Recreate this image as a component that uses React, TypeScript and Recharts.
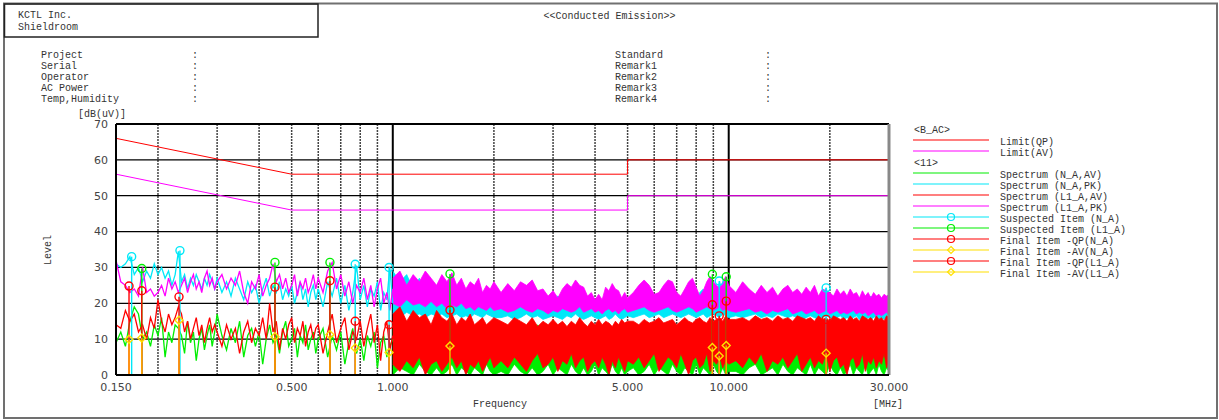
import React from "react";
import { Area, CartesianGrid, ComposedChart, Line, ReferenceLine, Scatter, XAxis, YAxis } from "recharts";

// colours used by the analyzer software
const GREEN = "#00ee00";
const CYAN = "#00e8f8";
const RED = "#ff0000";
const MAGENTA = "#ff00ff";
const YELLOW = "#ffe000";
const ORANGE = "#ffb000";

// ---- spectrum, sparse part (0.15 - 1 MHz) ----
const lowFreq = [
  0.150, 0.155, 0.160, 0.165, 0.170, 0.175, 0.180, 0.185, 0.190, 0.195,
  0.200, 0.205, 0.210, 0.215, 0.220, 0.225, 0.230, 0.235, 0.240, 0.245,
  0.250, 0.255, 0.260, 0.265, 0.270, 0.275, 0.280, 0.285, 0.290, 0.295,
  0.30, 0.31, 0.32, 0.33, 0.34, 0.35, 0.36, 0.37, 0.38, 0.39,
  0.40, 0.41, 0.42, 0.43, 0.44, 0.45, 0.46, 0.47, 0.48, 0.49,
  0.50, 0.51, 0.52, 0.53, 0.54, 0.55, 0.56, 0.57, 0.58, 0.59,
  0.60, 0.62, 0.64, 0.66, 0.68, 0.70, 0.72, 0.74, 0.76, 0.78,
  0.80, 0.82, 0.84, 0.86, 0.88, 0.90, 0.92, 0.94, 0.96, 0.98,
  1.00,
];
const nAvLow = [
  9, 12, 8, 15, 19, 17, 10, 12, 8, 14, 11, 16, 5, 12, 9, 14, 13, 11, 6, 15, 9, 12, 4, 10, 13, 7, 11, 14, 8, 12,
  17, 11, 7, 13, 9, 15, 5, 11, 13, 8, 12, 3, 10, 14, 9, 11, 6, 12, 15, 8, 10, 13, 5, 11, 9, 14, 7, 10, 12, 6,
  10, 13, 5, 11, 7, 12, 3, 9, 13, 6, 10, 4, 11, 8, 12, 2, 9, 11, 5, 8, 10,
];
const nPkLow = [
  31, 30, 31, 33, 28, 30, 26, 29, 27, 31, 28, 30, 27, 29, 25, 28, 34.5, 26, 28, 24, 27, 25, 28, 26, 24, 27, 25, 28, 26, 24,
  27, 23, 26, 22, 27, 24, 21, 26, 23, 25, 20, 24, 27, 22, 25, 23, 26, 21, 24, 22, 25, 20, 23, 26, 21, 24, 19, 23, 25, 21,
  24, 19, 26, 22, 27, 20, 25, 18, 23, 30.5, 21, 25, 19, 24, 22, 26, 18, 23, 21, 30, 20,
];
const l1AvLow = [
  14, 13, 18, 15, 17, 12, 14, 10, 16, 13, 21, 15, 12, 17, 14, 16, 19, 17, 12, 15, 10, 13, 16, 11, 14, 9, 13, 16, 12, 14,
  12, 8, 14, 10, 13, 6, 12, 15, 9, 13, 11, 16, 10, 20, 12, 15, 7, 13, 10, 14, 16, 9, 13, 11, 15, 8, 12, 14, 10, 13,
  14, 6, 12, 17, 9, 13, 16, 7, 12, 10, 15, 8, 13, 17, 9, 14, 4, 12, 15, 7, 11,
];
const l1PkLow = [
  32, 26, 25, 23, 24, 22, 30, 23, 24, 22, 23, 25, 22, 27, 24, 26, 23, 25, 27, 23, 26, 28, 24, 26, 23, 27, 29, 25, 27, 24,
  26, 28, 24, 27, 25, 29, 23, 20, 26, 24, 28, 22, 25, 27, 31, 26, 28, 24, 27, 23, 25, 28, 22, 26, 24, 27, 23, 25, 28, 24,
  27, 23, 29, 31.4, 24, 28, 22, 26, 20, 25, 23, 27, 21, 25, 19, 24, 27, 20, 23, 18, 24,
];

// ---- spectrum, dense part (1 - 30 MHz), low / high envelope ----
const bandFreq = [
  1.00, 1.05, 1.10, 1.15, 1.20, 1.25, 1.30, 1.35, 1.40, 1.45, 1.50, 1.55, 1.60, 1.65, 1.70, 1.75, 1.80, 1.85, 1.90, 1.95, 2.00,
  2.1, 2.2, 2.3, 2.4, 2.5, 2.6, 2.7, 2.8, 2.9, 3.0, 3.1, 3.2, 3.3, 3.4, 3.5, 3.6, 3.7, 3.8, 3.9, 4.0, 4.1, 4.2, 4.3, 4.4, 4.5, 4.6, 4.7, 4.8, 4.9, 5.0,
  5.2, 5.4, 5.6, 5.8, 6.0, 6.2, 6.4, 6.6, 6.8, 7.0, 7.2, 7.4, 7.6, 7.8, 8.0, 8.2, 8.4, 8.6, 8.8, 9.0, 9.2, 9.4, 9.6, 9.8, 10.0,
  10.5, 11, 11.5, 12, 12.5, 13, 13.5, 14, 14.5, 15, 15.5, 16, 16.5, 17, 17.5, 18, 18.5, 19, 19.5, 20,
  20.5, 21, 21.5, 22, 22.5, 23, 23.5, 24, 24.5, 25, 25.5, 26, 26.5, 27, 27.5, 28, 28.5, 29, 29.5, 30,
];
const nAvBandLo = [
  0, 2, 1, 0, 3, 1, 0, 2, 0, 1, 3, 0, 2, 1, 0, 2, 1, 0, 3, 1, 0,
  1, 0, 3, 1, 0, 2, 0, 1, 3, 0, 2, 1, 0, 3, 1, 0, 2, 0, 1, 3, 0, 2, 1, 0, 3, 1, 0, 2, 0, 1,
  2, 0, 1, 3, 0, 2, 1, 0, 3, 1, 0, 2, 1, 0, 3, 0, 2, 1, 0, 3, 1, 0, 2, 0, 1,
  1, 0, 2, 3, 0, 1, 2, 0, 3, 1, 0, 2, 1, 0, 3, 0, 2, 1, 0, 3, 1, 0, 2, 0, 1, 3, 0, 2, 1, 0, 3, 0, 1, 2, 0, 3, 1, 0, 2, 1,
];
const nAvBandHi = [
  14, 11, 15, 12, 13, 10, 14, 12, 15, 11, 13, 12, 14, 10, 13, 12, 14, 11, 13, 12, 14,
  13, 11, 14, 12, 13, 10, 14, 12, 13, 11, 14, 12, 13, 11, 14, 12, 13, 12, 14, 11, 13, 12, 14, 11, 13, 12, 14, 11, 13, 12,
  13, 12, 14, 11, 13, 12, 14, 12, 13, 11, 14, 12, 13, 12, 14, 11, 13, 12, 14, 12, 13, 11, 14, 12, 13,
  13, 12, 14, 13, 12, 14, 13, 12, 15, 13, 12, 14, 13, 12, 14, 13, 12, 15, 13, 12, 14, 13, 12, 14, 13, 12, 15, 13, 12, 14, 13, 12, 14, 13, 12, 15, 13, 12, 14, 13,
];
const nPkBandLo = [
  17, 16, 17.5, 16.5, 17, 16, 17, 16.5, 17, 16, 16.5, 17, 16, 16.5, 16, 17, 16.5, 16, 17, 16.5, 16,
  16, 16.5, 15.5, 16, 17, 16, 16.5, 15.5, 16, 16.5, 16, 15.5, 16.5, 16, 17, 16, 15.5, 16, 16.5, 16, 15.5, 16, 16.5, 15.5, 16, 17, 16, 15.5, 16, 16.5,
  16, 16.5, 17, 16, 16.5, 17, 16, 16.5, 17, 16.5, 16, 16.5, 17, 16.5, 16, 16.5, 17, 16, 16.5, 17, 16.5, 16, 17, 16.5, 16,
  16.5, 16, 16.5, 17, 16, 16.5, 16, 17, 16.5, 16, 16.5, 16, 15.5, 16, 16.5, 16, 15.5, 16, 16.5, 16,
  15.5, 16, 16.5, 15.5, 16, 15.5, 16, 16.5, 15.5, 16, 15.5, 16, 15.5, 16, 16.5, 15.5, 16, 15.5, 16, 15.5,
];
const nPkBandHi = [
  29, 26, 28, 24, 27, 23, 25, 24, 26, 23, 25, 24, 23, 22, 24, 23, 22, 23, 21, 22, 23,
  21, 22, 21, 23, 22, 21, 20, 21, 20, 21, 22, 21, 22, 23, 22, 21, 20, 21, 20, 21, 20, 21, 22, 21, 22, 21, 20, 21, 20, 21,
  21, 22, 23, 22, 21, 22, 23, 24, 22, 21, 22, 23, 24, 22, 21, 23, 24, 22, 21, 22, 23, 26.2, 22, 23, 22,
  21, 22, 21, 20, 22, 21, 22, 20, 21, 22, 21, 20, 21, 22, 21, 20, 21, 22, 24.3, 21,
  20, 21, 22, 21, 20, 21, 22, 21, 20, 21, 20, 21, 22, 21, 20, 21, 20, 21, 22, 21,
];
const l1AvBandLo = [
  3, 1, 4, 2, 5, 0, 3, 4, 1, 3, 5, 2, 4, 0, 3, 2, 4, 1, 3, 5, 2,
  4, 2, 5, 3, 1, 4, 6, 2, 3, 5, 1, 4, 3, 6, 2, 4, 5, 1, 3, 4, 2, 5, 3, 0, 4, 2, 5, 3, 1, 4,
  3, 5, 2, 4, 6, 1, 3, 5, 4, 2, 6, 3, 0, 4, 5, 2, 3, 6, 1, 4, 3, 5, 2, 4, 3,
  4, 2, 5, 3, 6, 1, 4, 3, 5, 2, 4, 6, 1, 3, 5, 2, 4, 3, 6, 1, 4, 5, 2, 3, 0, 4, 5, 2, 3, 6, 1, 4, 3, 5, 2, 4, 3, 6, 2, 4,
];
const l1AvBandHi = [
  17, 19, 15, 18, 16, 17, 14, 18, 16, 15, 17, 14, 16, 15, 17, 14, 15, 16, 14, 15, 16,
  15, 14, 16, 15, 14, 16, 13.5, 15, 14, 15.5, 14, 15, 13.5, 15, 14, 16, 14.5, 13.5, 15, 14, 15.5, 14, 15, 14.5, 13.5, 15, 14, 15.5, 14.5, 15,
  15, 14, 15.5, 14.5, 15, 16, 14.5, 15, 15.5, 14, 15, 16, 15, 14.5, 15.5, 16, 15, 14.5, 16, 15, 15.5, 16, 15, 16.5, 15.5,
  15.5, 16, 15, 16.5, 15.5, 16, 15, 16.5, 15.5, 16, 15, 16.5, 16, 15.5, 16, 15, 16.5, 15.5, 16, 15,
  16.5, 16, 15.5, 16, 15, 16.5, 15.5, 16, 15, 16.5, 16, 15.5, 16, 15, 16.5, 15.5, 16, 15, 16.5, 16,
];
const l1PkBandLo = [
  20, 19, 21, 19.5, 20, 19, 20.5, 19, 20, 18.5, 19.5, 19, 20, 18.5, 19, 18, 19, 18.5, 18, 19, 18,
  18.5, 17.5, 18, 19, 18, 17.5, 18.5, 18, 17, 18, 17.5, 18.5, 18, 17.5, 18, 19, 17.5, 18, 18.5, 17.5, 18, 17, 18, 18.5, 17.5, 18, 17, 18, 18.5, 17.5,
  18, 18.5, 19, 18, 17.5, 18, 18.5, 19, 18, 17.5, 18, 18.5, 19, 18.5, 17.5, 18, 18.5, 19, 18.5, 18, 18.5, 19, 18, 18.5, 18,
  17.5, 18, 18.5, 17.5, 18, 17, 18, 17.5, 18, 18.5, 17, 17.5, 18, 17, 17.5, 18, 17, 17.5, 18, 17,
  17.5, 18, 17, 17.5, 17, 17.5, 18, 17, 17.5, 17, 17.5, 16.5, 17, 17.5, 16.5, 17, 16.5, 17, 17.5, 16.5,
];
const l1PkBandHi = [
  27, 29, 25, 28, 26, 29, 27, 25, 28, 26, 28.5, 25, 27, 24, 26, 25, 27, 23, 25, 24, 26,
  23, 25.5, 23.5, 26, 25, 26.5, 23.5, 24, 22, 23.5, 21.5, 24, 25.5, 24.5, 26.5, 25, 24.5, 22, 23, 21, 22.5, 21, 24.5, 23.5, 25.5, 24, 23.5, 21.5, 23, 21.5,
  23, 25, 26.5, 25, 22.5, 23, 25, 26.5, 26, 23, 22, 24, 26, 27, 24.5, 22, 23.5, 26, 27.5, 26, 25, 24, 26, 27.5, 25,
  23, 26, 24, 22.5, 25, 23, 24.5, 22, 24, 25, 23, 24, 22.5, 24.5, 23, 25, 22, 24, 23.5, 23,
  22, 24, 22.5, 23.5, 22, 24, 22.5, 23, 21.5, 23.5, 22, 23, 21.5, 23, 22, 22.5, 21.5, 22.5, 22, 22.5,
];

// ---- limits ----
const limitFreq = [0.15, 0.5, 5, 5, 30];
const limitQp = [66, 56, 56, 60, 60];
const limitAv = [56, 46, 46, 50, 50];

// ---- measured items ----
const suspectNFreq = [0.167, 0.2325, 0.773, 0.975, 9.37, 19.5];
const suspectNLevel = [33.0, 34.7, 30.9, 30.0, 26.2, 24.3];
const suspectLFreq = [0.179, 0.446, 0.65, 1.48, 8.94, 9.83];
const suspectLLevel = [29.7, 31.4, 31.4, 28.2, 28.1, 27.4];
const finalNFreq = [0.164, 0.231, 0.773, 0.975, 9.37, 19.5];
const finalQpN = [24.8, 21.8, 15.0, 14.0, 16.5, 15.5];
const finalAvN = [10.0, 15.3, 7.5, 6.3, 5.3, 6.1];
const finalLFreq = [0.179, 0.446, 0.65, 1.48, 8.94, 9.83];
const finalQpL = [23.5, 24.5, 26.3, 18.1, 19.6, 20.6];
const finalAvL = [10.3, 10.7, 11.2, 8.1, 7.7, 8.2];

const xTicks = [0.15, 0.5, 1, 5, 10, 30];
const yTicks = [0, 10, 20, 30, 40, 50, 60, 70];
const yMinorTicks = [2, 4, 6, 8, 12, 14, 16, 18, 22, 24, 26, 28, 32, 34, 36, 38, 42, 44, 46, 48, 52, 54, 56, 58, 62, 64, 66, 68];
const gridFreqMinor = [0.2, 0.3, 0.4, 0.5, 0.6, 0.7, 0.8, 0.9, 2, 3, 4, 5, 6, 7, 8, 9, 20];
const gridFreqMajor = [1, 10];
const gridLevels = [10, 20, 30, 40, 50, 60];

const infoLeft = ["Project", "Serial", "Operator", "AC Power", "Temp,Humidity"];
const infoRight = ["Standard", "Remark1", "Remark2", "Remark3", "Remark4"];

const legendRows = [
  { label: "<B_AC>", head: true },
  { label: "Limit(QP)", color: RED },
  { label: "Limit(AV)", color: MAGENTA },
  { label: "<11>", head: true },
  { label: "Spectrum (N_A,AV)", color: GREEN },
  { label: "Spectrum (N_A,PK)", color: CYAN },
  { label: "Spectrum (L1_A,AV)", color: RED },
  { label: "Spectrum (L1_A,PK)", color: MAGENTA },
  { label: "Suspected Item (N_A)", color: CYAN, marker: "circle" },
  { label: "Suspected Item (L1_A)", color: GREEN, marker: "circle" },
  { label: "Final Item -QP(N_A)", color: RED, marker: "circle" },
  { label: "Final Item -AV(N_A)", color: YELLOW, marker: "diamond" },
  { label: "Final Item -QP(L1_A)", color: RED, marker: "circle" },
  { label: "Final Item -AV(L1_A)", color: YELLOW, marker: "diamond" },
];

const lowRows = lowFreq.map((f, i) => ({ f, nAv: nAvLow[i], nPk: nPkLow[i], lAv: l1AvLow[i], lPk: l1PkLow[i] }));
const bandRows = bandFreq.map((f, i) => ({
  f,
  nAv: [nAvBandLo[i], nAvBandHi[i]],
  nPk: [nPkBandLo[i], nPkBandHi[i]],
  lAv: [l1AvBandLo[i], l1AvBandHi[i]],
  lPk: [l1PkBandLo[i], l1PkBandHi[i]],
}));
const limitRows = limitFreq.map((f, i) => ({ f, qp: limitQp[i], av: limitAv[i] }));
const toRows = (fs: number[], vs: number[]) => fs.map((f, i) => ({ f, v: vs[i] }));

const suspectN = toRows(suspectNFreq, suspectNLevel);
const suspectL = toRows(suspectLFreq, suspectLLevel);
const qpN = toRows(finalNFreq, finalQpN);
const avN = toRows(finalNFreq, finalAvN);
const qpL = toRows(finalLFreq, finalQpL);
const avL = toRows(finalLFreq, finalAvL);

const circleShape = (color: string) => (p: any) => (
  <circle cx={p.cx} cy={p.cy} r={4} fill="none" stroke={color} strokeWidth={1.4} />
);
const diamondShape = (color: string) => (p: any) => (
  <path
    d={`M${p.cx},${p.cy - 4}L${p.cx + 4},${p.cy}L${p.cx},${p.cy + 4}L${p.cx - 4},${p.cy}Z`}
    fill="none"
    stroke={color}
    strokeWidth={1.4}
  />
);

const stems = (rows: { f: number; v: number }[], color: string, key: string) =>
  rows.map((r, i) => (
    <ReferenceLine
      key={`${key}${i}`}
      segment={[{ x: r.f, y: 0 }, { x: r.f, y: r.v }]}
      stroke={color}
      strokeWidth={1.4}
    />
  ));

const FONT = "'Liberation Mono', monospace";
const TXT = "#333";

export default function App() {
  return (
    <div style={{ position: "absolute", left: 0, top: 0, width: 1219, height: 420, background: "#fff" }}>
      <ComposedChart width={1219} height={420} margin={{ top: 124, right: 330, left: 76, bottom: 15 }}>
        {/* grid stays under every series */}
        <CartesianGrid horizontal={false} verticalValues={gridFreqMinor} stroke="#444" strokeWidth={1.5} strokeDasharray="2 1" />
        <CartesianGrid horizontal={false} verticalValues={gridFreqMajor} stroke="#000" strokeWidth={2} />
        <CartesianGrid vertical={false} horizontalValues={gridLevels} stroke="#000" strokeWidth={1.3} />

        <XAxis
          dataKey="f"
          type="number"
          scale="log"
          domain={[0.15, 30]}
          allowDataOverflow
          ticks={xTicks}
          interval={0}
          tickFormatter={(v: number) => v.toFixed(3)}
          tickLine={false}
          tickSize={0}
          tickMargin={8}
          height={30}
          axisLine={{ stroke: "#000", strokeWidth: 2 }}
          tick={{ fontSize: 11, fill: "#444", fontFamily: "'DejaVu Sans', sans-serif" }}
        />
        <YAxis
          type="number"
          domain={[0, 70]}
          ticks={yTicks}
          interval={0}
          width={40}
          tickLine={false}
          tickSize={0}
          tickMargin={8}
          axisLine={{ stroke: "#000", strokeWidth: 2 }}
          tick={{ fontSize: 11, fill: "#444", fontFamily: "'DejaVu Sans', sans-serif" }}
        />
        <YAxis
          yAxisId="minor"
          type="number"
          domain={[0, 70]}
          ticks={yMinorTicks}
          interval={0}
          mirror
          axisLine={false}
          tick={false}
          tickSize={7}
          tickLine={{ stroke: "#000", strokeWidth: 1.5 }}
        />

        <Line data={limitRows} dataKey="qp" stroke={RED} strokeWidth={1} dot={false} isAnimationActive={false} />
        <Line data={limitRows} dataKey="av" stroke={MAGENTA} strokeWidth={1} dot={false} isAnimationActive={false} />

        <Line data={lowRows} dataKey="nAv" stroke={GREEN} strokeWidth={1.3} dot={false} isAnimationActive={false} />
        <Area data={bandRows} dataKey="nAv" type="linear" stroke={GREEN} strokeWidth={0.8} fill={GREEN} fillOpacity={1} isAnimationActive={false} />
        <Line data={lowRows} dataKey="nPk" stroke={CYAN} strokeWidth={1.3} dot={false} isAnimationActive={false} />
        <Area data={bandRows} dataKey="nPk" type="linear" stroke={CYAN} strokeWidth={0.8} fill={CYAN} fillOpacity={1} isAnimationActive={false} />
        <Line data={lowRows} dataKey="lAv" stroke={RED} strokeWidth={1.3} dot={false} isAnimationActive={false} />
        <Area data={bandRows} dataKey="lAv" type="linear" stroke={RED} strokeWidth={0.8} fill={RED} fillOpacity={1} isAnimationActive={false} />
        <Line data={lowRows} dataKey="lPk" stroke={MAGENTA} strokeWidth={1.3} dot={false} isAnimationActive={false} />
        <Area data={bandRows} dataKey="lPk" type="linear" stroke={MAGENTA} strokeWidth={0.8} fill={MAGENTA} fillOpacity={1} isAnimationActive={false} />

        <ReferenceLine y={70} stroke="#000" strokeWidth={2} />
        <ReferenceLine x={30} stroke="#888" strokeWidth={3} />

        {stems(suspectN, CYAN, "sn")}
        {stems(suspectL, GREEN, "sl")}
        {stems(qpN, RED, "qn")}
        {stems(qpL, RED, "ql")}
        {stems(avN, ORANGE, "an")}
        {stems(avL, ORANGE, "al")}

        <Scatter data={suspectN} dataKey="v" shape={circleShape(CYAN)} isAnimationActive={false} />
        <Scatter data={suspectL} dataKey="v" shape={circleShape(GREEN)} isAnimationActive={false} />
        <Scatter data={qpN} dataKey="v" shape={circleShape(RED)} isAnimationActive={false} />
        <Scatter data={qpL} dataKey="v" shape={circleShape(RED)} isAnimationActive={false} />
        <Scatter data={avN} dataKey="v" shape={diamondShape(YELLOW)} isAnimationActive={false} />
        <Scatter data={avL} dataKey="v" shape={diamondShape(YELLOW)} isAnimationActive={false} />
      </ComposedChart>

      <svg
        width={1219}
        height={420}
        style={{ position: "absolute", left: 0, top: 0, pointerEvents: "none" }}
        fontFamily={FONT}
        fontSize={10}
        fill={TXT}
      >
        {/* page frame and header box */}
        <rect x={4} y={3.5} width={1213} height={414.5} fill="none" stroke="#707070" strokeWidth={2} />
        <rect x={4.5} y={4} width={313.5} height={33} fill="none" stroke="#222" strokeWidth={1.5} />
        <text x={18} y={15} dominantBaseline="central">KCTL Inc.</text>
        <text x={18} y={27} dominantBaseline="central">Shieldroom</text>
        <text x={609.5} y={16} textAnchor="middle" dominantBaseline="central">{"<<Conducted Emission>>"}</text>

        {infoLeft.map((t, i) => (
          <g key={t}>
            <text x={41} y={55 + i * 11.2} dominantBaseline="central">{t}</text>
            <text x={192} y={55 + i * 11.2} dominantBaseline="central">:</text>
          </g>
        ))}
        {infoRight.map((t, i) => (
          <g key={t}>
            <text x={615} y={55 + i * 11.2} dominantBaseline="central">{t}</text>
            <text x={765} y={55 + i * 11.2} dominantBaseline="central">:</text>
          </g>
        ))}

        <text x={78} y={114} dominantBaseline="central">[dB(uV)]</text>
        <text x={48} y={250} textAnchor="middle" dominantBaseline="central" transform="rotate(-90 48 250)">Level</text>
        <text x={500} y={404} textAnchor="middle" dominantBaseline="central">Frequency</text>
        <text x={873} y={404} dominantBaseline="central">[MHz]</text>

        {legendRows.map((r, i) => {
          const y = 130 + i * 11;
          if (r.head) {
            return (
              <text key={r.label} x={914} y={y} dominantBaseline="central">{r.label}</text>
            );
          }
          return (
            <g key={r.label}>
              <line x1={913} x2={989} y1={y - 1} y2={y - 1} stroke={r.color} strokeWidth={1.2} />
              {r.marker === "circle" && <circle cx={951} cy={y - 1} r={3.5} fill="none" stroke={r.color} strokeWidth={1.2} />}
              {r.marker === "diamond" && (
                <path d={`M951,${y - 4.5}L954.5,${y - 1}L951,${y + 2.5}L947.5,${y - 1}Z`} fill="none" stroke={r.color} strokeWidth={1.2} />
              )}
              <text x={1000} y={y + 1} dominantBaseline="central">{r.label}</text>
            </g>
          );
        })}
      </svg>
    </div>
  );
}
